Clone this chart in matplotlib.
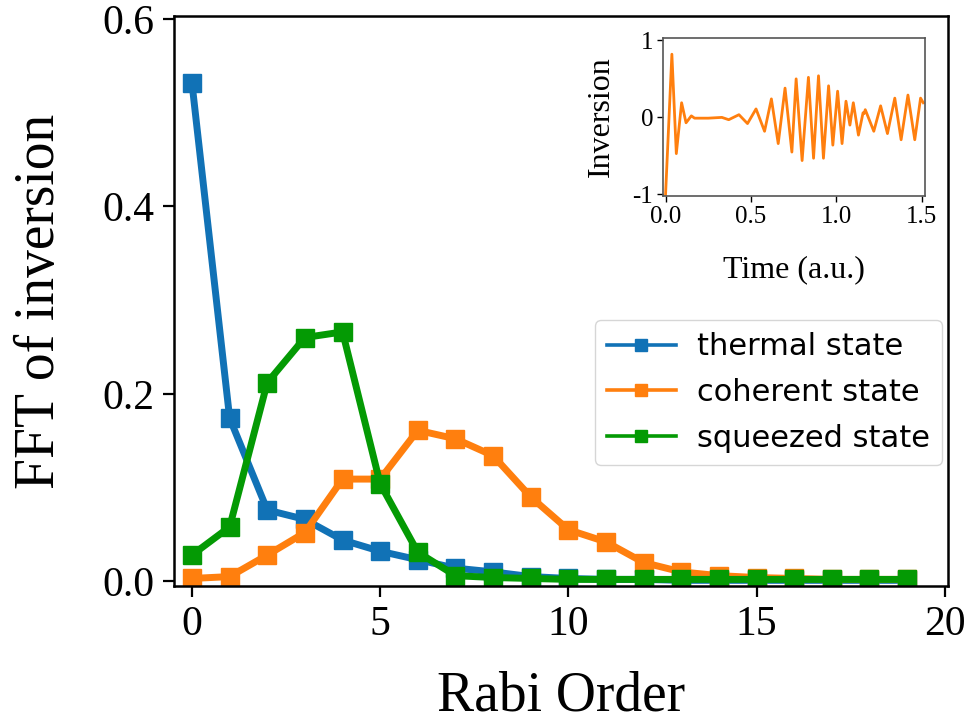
import matplotlib
matplotlib.use("Agg")
import matplotlib.pyplot as plt

# FFT amplitudes per Rabi order
rabi_order = list(range(20))
thermal = [0.531, 0.174, 0.076, 0.066, 0.044, 0.032, 0.023, 0.014, 0.010, 0.005,
           0.003, 0.002, 0.002, 0.001, 0.001, 0.001, 0.001, 0.001, 0.001, 0.001]
coherent = [0.003, 0.005, 0.028, 0.052, 0.109, 0.109, 0.161, 0.152, 0.134, 0.090,
            0.055, 0.042, 0.020, 0.010, 0.006, 0.004, 0.003, 0.002, 0.002, 0.002]
squeezed = [0.028, 0.058, 0.212, 0.260, 0.266, 0.104, 0.031, 0.006, 0.004, 0.003,
            0.002, 0.002, 0.002, 0.002, 0.002, 0.002, 0.002, 0.002, 0.002, 0.002]
labels = ["thermal state", "coherent state", "squeezed state"]

# inset: coherent-state inversion, extrema
inv_time = [0.0, 0.037, 0.063, 0.094, 0.12, 0.151, 0.17, 0.25, 0.33, 0.37, 0.43, 0.48,
            0.53, 0.58, 0.62, 0.66, 0.70, 0.74, 0.765, 0.80, 0.837, 0.867, 0.896,
            0.925, 0.955, 0.98, 1.008, 1.034, 1.057, 1.08, 1.10, 1.13, 1.157, 1.163,
            1.17, 1.22, 1.26, 1.30, 1.343, 1.38, 1.42, 1.46, 1.494, 1.51]
inversion = [-1.0, 0.82, -0.47, 0.19, -0.07, 0.02, -0.01, -0.01, 0.0, -0.03, 0.035, -0.08,
             0.11, -0.18, 0.24, -0.34, 0.38, -0.45, 0.50, -0.56, 0.52, -0.53, 0.54,
             -0.53, 0.41, -0.36, 0.34, -0.34, 0.21, -0.10, 0.19, -0.23, 0.06, 0.05,
             0.10, -0.18, 0.15, -0.21, 0.25, -0.29, 0.29, -0.29, 0.25, 0.19]

colors = ["#1172b6", "#ff7f0e", "#049a04"]
serif = "Liberation Serif"
plt.rcParams["axes.unicode_minus"] = False

fig = plt.figure(figsize=(9.74, 7.27), dpi=100)
ax = fig.add_axes([0.1786, 0.194, 0.7944, 0.784])

for values, color, label in zip([thermal, coherent, squeezed], colors, labels):
    ax.plot(rabi_order, values, "-s", color=color, lw=5, ms=13.5, label=label)

ax.set_xlim(-0.48, 20.08)
ax.set_ylim(-0.005, 0.603)
ax.set_xticks([0, 5, 10, 15, 20])
ax.set_yticks([0.0, 0.2, 0.4, 0.6])
ax.set_yticklabels(["0.0", "0.2", "0.4", "0.6"])
for s in ax.spines.values():
    s.set_linewidth(1.8)
ax.tick_params(labelsize=30, length=8, width=1.6, pad=6)
for t in ax.get_xticklabels() + ax.get_yticklabels():
    t.set_fontfamily(serif)
ax.set_xlabel("Rabi Order", fontsize=40, family=serif, labelpad=19)
ax.set_ylabel("FFT of inversion", fontsize=40, family=serif, labelpad=26)

leg = ax.legend(loc="lower right", bbox_to_anchor=(0.993, 0.212), borderaxespad=0,
                fontsize=22, markerscale=0.68, handlelength=2.25, handletextpad=0.7,
                labelspacing=0.55)
for line in leg.get_lines():
    line.set_linewidth(2.6)

ins = fig.add_axes([0.6807, 0.7304, 0.269, 0.2173])
ins.plot(inv_time, inversion, color="#ff7f0e", lw=2.0)
ins.set_xlim(-0.015, 1.52)
ins.set_ylim(-1.02, 1.03)
ins.set_xticks([0.0, 0.5, 1.0, 1.5])
ins.set_xticklabels(["0.0", "0.5", "1.0", "1.5"])
ins.set_yticks([-1, 0, 1])
ins.set_yticklabels(["-1", "0", "1"])
for s in ins.spines.values():
    s.set_color("#555555")
    s.set_linewidth(1.2)
ins.tick_params(labelsize=18, length=4, width=1, pad=3)
for t in ins.get_xticklabels() + ins.get_yticklabels():
    t.set_fontfamily(serif)
ins.set_xlabel("Time (a.u.)", fontsize=23, family=serif, labelpad=20)
ins.set_ylabel("Inversion", fontsize=23, family=serif, labelpad=12)

fig.savefig("out.png", dpi=100)
